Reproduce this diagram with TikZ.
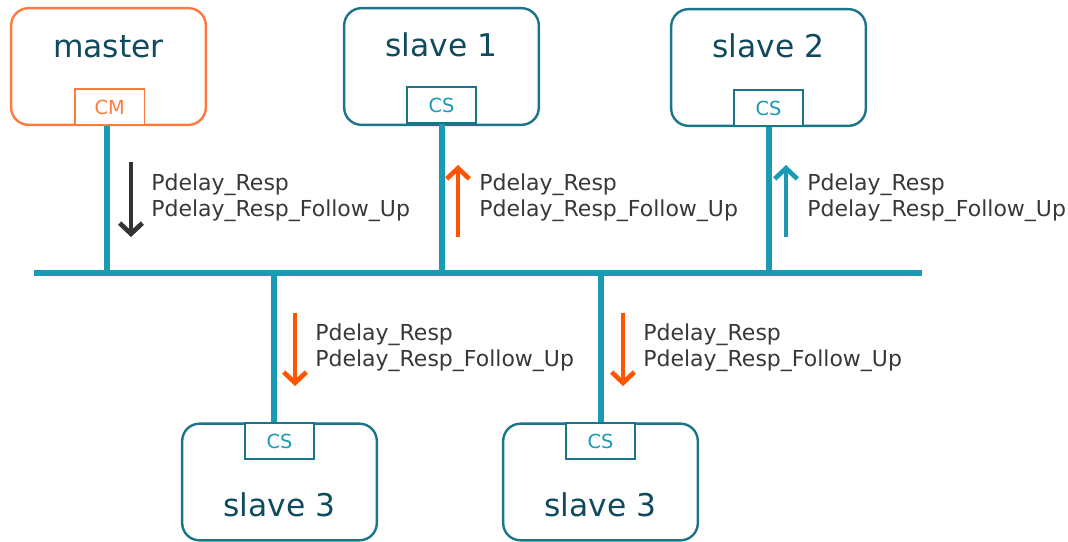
\documentclass[tikz,border=0pt]{standalone}
\usepackage{fontspec}
\setmainfont{DejaVu Sans}
\usepackage{xcolor}
\usetikzlibrary{arrows.meta,positioning}
\definecolor{PtpOrange}{HTML}{FF7A3D}
\definecolor{PtpTeal}{HTML}{1B7487}
\definecolor{PtpBus}{HTML}{1A9AB5}
\definecolor{PtpInk}{HTML}{0F4A5E}
\definecolor{PtpRed}{HTML}{FF5500}
\definecolor{PtpGrey}{HTML}{333333}
\tikzset{
  clockbox/.style={draw=PtpTeal,line width=1.8pt,rounded corners=13pt,minimum width=146pt,minimum height=87.5pt,inner sep=0pt},
  masterbox/.style={clockbox,draw=PtpOrange},
  porttag/.style={draw=PtpTeal,line width=1.4pt,fill=white,minimum width=52pt,minimum height=27pt,inner sep=0pt,text=PtpBus,font=\fontsize{14.5}{15}\selectfont},
  mastertag/.style={porttag,draw=PtpOrange,text=PtpOrange},
  boxtitle/.style={inner sep=0pt,anchor=base,text=PtpInk,font=\fontsize{23.5}{26}\selectfont},
  msglabel/.style={inner sep=0pt,anchor=west,align=left,text=black!78,font=\fontsize{16.5}{19.5}\selectfont},
  bus/.style={draw=PtpBus,line width=4.5pt},
  msgarrow/.style={-{Straight Barb[length=8pt,width=17pt]},line width=3.5pt}
}

\begin{document}
\begin{tikzpicture}[x=0.75pt,y=-0.75pt]
  \useasboundingbox (0,0) rectangle (1068,542);
  % clocks on the segment
  \node[masterbox] (master) at (108.5,66.5) {};
  \node[clockbox] (slaveA) at (441.5,66.5) {};
  \node[clockbox] (slaveB) at (768.5,67.5) {};
  \node[clockbox] (slaveC) at (279.5,482) {};
  \node[clockbox] (slaveD) at (600.5,482) {};
  \node[boxtitle] (masterT) at ([yshift=-38pt]master.north) {master};
  \node[boxtitle] (slaveAT) at ([yshift=-37.5pt]slaveA.north) {slave 1};
  \node[boxtitle] (slaveBT) at ([yshift=-37.5pt]slaveB.north) {slave 2};
  \node[boxtitle] (slaveCT) at ([yshift=19pt]slaveC.south) {slave 3};
  \node[boxtitle] (slaveDT) at ([yshift=19pt]slaveD.south) {slave 3};
  % ports
  \node[mastertag,anchor=south,xshift=1pt] (cm) at (master.south) {CM};
  \node[porttag,anchor=south] (csA) at ([yshift=1.5pt]slaveA.south) {CS};
  \node[porttag,anchor=south] (csB) at (slaveB.south) {CS};
  \node[porttag,anchor=north] (csC) at (slaveC.north) {CS};
  \node[porttag,anchor=north] (csD) at (slaveD.north) {CS};
  % bus and drops
  \coordinate (busW) at (34,273);
  \coordinate (busE) at (922,273);
  \draw[bus] (busW) -- (busE);
  \draw[bus] ([xshift=-2.5pt]cm.south) -- ([xshift=-2.5pt]cm.south |- busW);
  \draw[bus] (csA.south) -- (csA.south |- busW);
  \draw[bus] (csB.south) -- (csB.south |- busW);
  \draw[bus] ([xshift=-4.5pt]csC.north) -- ([xshift=-4.5pt]csC.north |- busW);
  \draw[bus] (csD.north) -- (csD.north |- busW);
  % message directions
  \draw[msgarrow,draw=PtpGrey] (131,162) -- (131,237);
  \draw[msgarrow,draw=PtpRed] (458,237) -- (458,165);
  \draw[msgarrow,draw=PtpBus] (786,237) -- (786,165);
  \draw[msgarrow,draw=PtpRed] (295,313) -- (295,386);
  \draw[msgarrow,draw=PtpRed] (623,313) -- (623,386);
  \node[msglabel] (msgM) at (151,198) {Pdelay\_Resp\\Pdelay\_Resp\_Follow\_Up};
  \node[msglabel] (msgA) at (479,198) {Pdelay\_Resp\\Pdelay\_Resp\_Follow\_Up};
  \node[msglabel] (msgB) at (807,198) {Pdelay\_Resp\\Pdelay\_Resp\_Follow\_Up};
  \node[msglabel] (msgC) at (315,348) {Pdelay\_Resp\\Pdelay\_Resp\_Follow\_Up};
  \node[msglabel] (msgD) at (643,348) {Pdelay\_Resp\\Pdelay\_Resp\_Follow\_Up};
\end{tikzpicture}
\end{document}
